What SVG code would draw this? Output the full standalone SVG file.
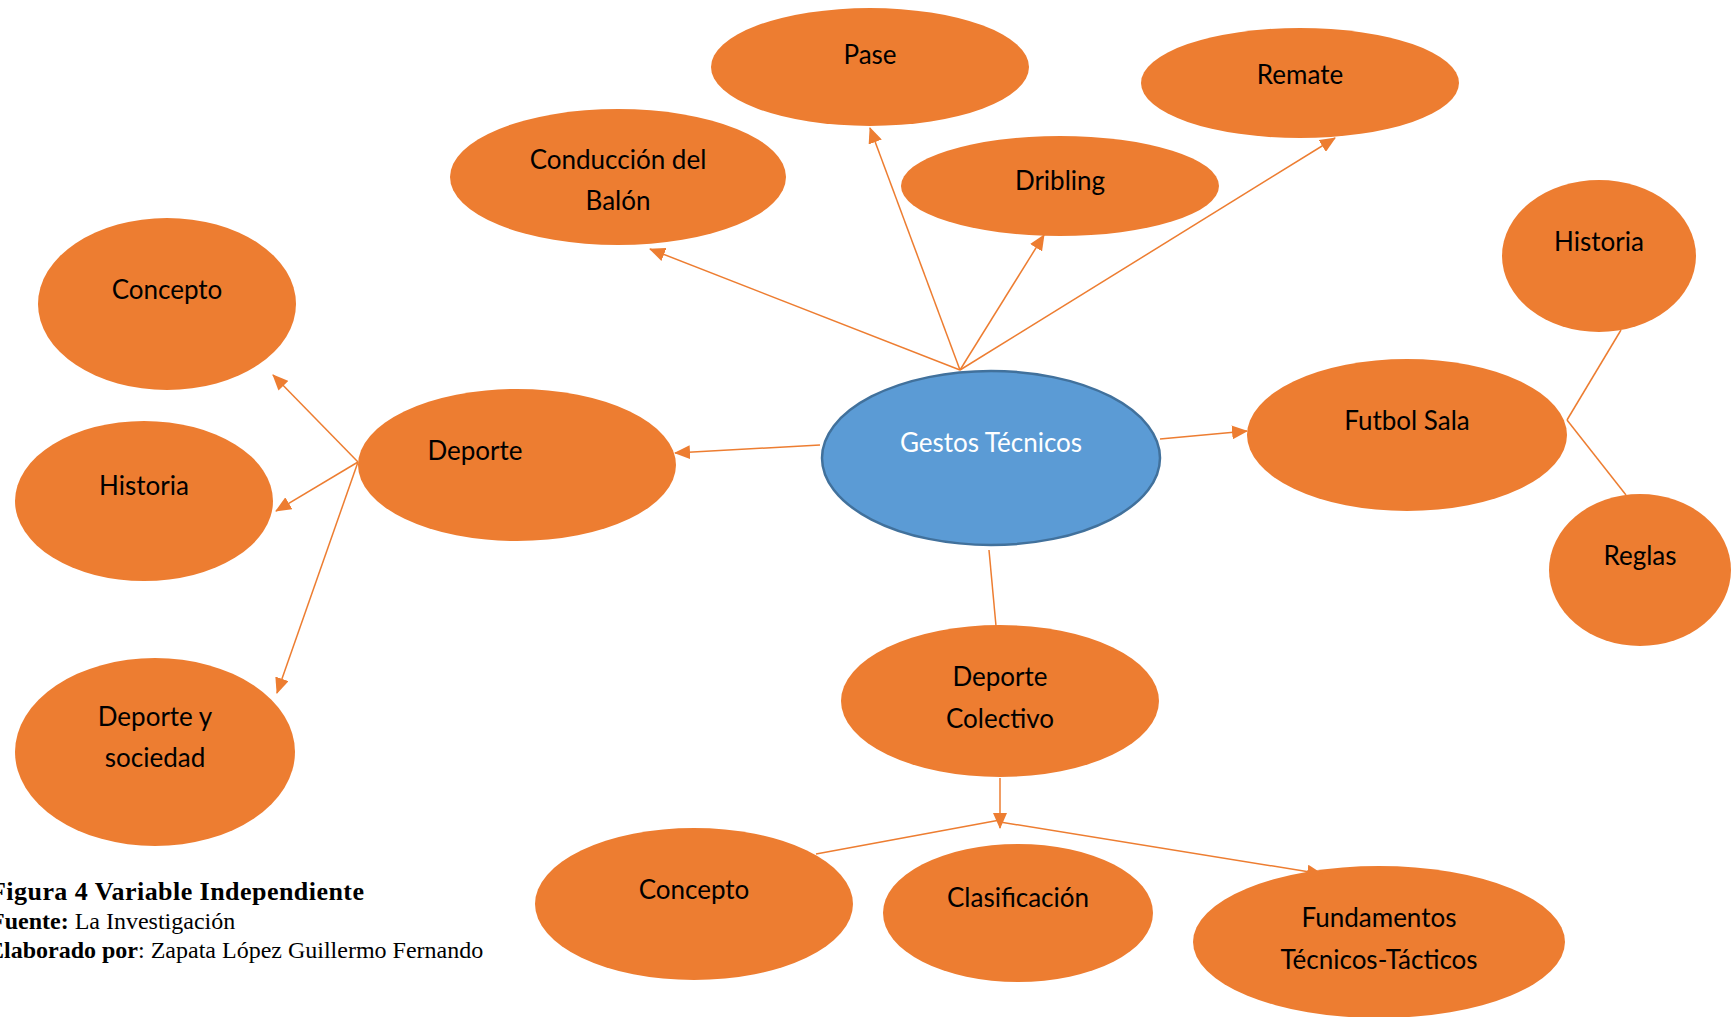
<svg xmlns="http://www.w3.org/2000/svg" width="1733" height="1017" viewBox="0 0 1733 1017">
<style>
.n{fill:#ED7D31}
.t{font-family:Lato,"Open Sans","Liberation Sans",sans-serif;font-size:26px;fill:#000;text-anchor:middle}
.c{stroke:#ED7D31;stroke-width:1.5;fill:none}
.cap{font-family:"Liberation Serif","Times New Roman",serif;font-size:24px;fill:#000}
</style>
<defs>
<marker id="ah" markerUnits="userSpaceOnUse" markerWidth="16" markerHeight="14" refX="15" refY="7" orient="auto">
<path d="M0,0 L16,7 L0,14 Z" fill="#ED7D31"/>
</marker>
</defs>
<rect width="1733" height="1017" fill="#fff"/>
<g id="n-pase"><ellipse class="n" cx="870" cy="67" rx="159" ry="59"/><text class="t" x="870" y="64">Pase</text></g>
<g id="n-remate"><ellipse class="n" cx="1300" cy="83" rx="159" ry="55"/><text class="t" x="1300" y="84">Remate</text></g>
<g id="n-conduccion"><ellipse class="n" cx="618" cy="177" rx="168" ry="68"/><text class="t" x="618" y="169">Conducción del</text><text class="t" x="618" y="210">Balón</text></g>
<g id="n-dribling"><ellipse class="n" cx="1060" cy="186" rx="159" ry="50"/><text class="t" x="1060" y="190">Dribling</text></g>
<g id="n-concepto1"><ellipse class="n" cx="167" cy="304" rx="129" ry="86"/><text class="t" x="167" y="299">Concepto</text></g>
<g id="n-historia1"><ellipse class="n" cx="144" cy="501" rx="129" ry="80"/><text class="t" x="144" y="495">Historia</text></g>
<g id="n-deporte"><ellipse class="n" cx="517" cy="465" rx="159" ry="76"/><text class="t" x="475" y="460">Deporte</text></g>
<g id="n-sociedad"><ellipse class="n" cx="155" cy="752" rx="140" ry="94"/><text class="t" x="155" y="726">Deporte y</text><text class="t" x="155" y="767">sociedad</text></g>
<g id="n-gestos"><ellipse cx="991" cy="458" rx="169" ry="87" fill="#5B9BD5" stroke="#41719C" stroke-width="2.5"/><text class="t" x="991" y="452" style="fill:#fff">Gestos Técnicos</text></g>
<g id="n-futbol"><ellipse class="n" cx="1407" cy="435" rx="160" ry="76"/><text class="t" x="1407" y="430">Futbol Sala</text></g>
<g id="n-historia2"><ellipse class="n" cx="1599" cy="256" rx="97" ry="76"/><text class="t" x="1599" y="251">Historia</text></g>
<g id="n-reglas"><ellipse class="n" cx="1640" cy="570" rx="91" ry="76"/><text class="t" x="1640" y="565">Reglas</text></g>
<g id="n-colectivo"><ellipse class="n" cx="1000" cy="701" rx="159" ry="76"/><text class="t" x="1000" y="686">Deporte</text><text class="t" x="1000" y="728">Colectivo</text></g>
<g id="n-concepto2"><ellipse class="n" cx="694" cy="904" rx="159" ry="76"/><text class="t" x="694" y="899">Concepto</text></g>
<g id="n-clasificacion"><ellipse class="n" cx="1018" cy="913" rx="135" ry="69"/><text class="t" x="1018" y="907">Clasificación</text></g>
<g id="n-fundamentos"><ellipse class="n" cx="1379" cy="942" rx="186" ry="76"/><text class="t" x="1379" y="927">Fundamentos</text><text class="t" x="1379" y="969">Técnicos-Tácticos</text></g>
<g id="connectors">
<line class="c" x1="960" y1="370" x2="650" y2="249" marker-end="url(#ah)"/>
<line class="c" x1="960" y1="370" x2="870" y2="128" marker-end="url(#ah)"/>
<line class="c" x1="960" y1="370" x2="1044" y2="235" marker-end="url(#ah)"/>
<line class="c" x1="960" y1="370" x2="1335" y2="138" marker-end="url(#ah)"/>
<line class="c" x1="820" y1="445" x2="675" y2="453" marker-end="url(#ah)"/>
<line class="c" x1="1160" y1="439" x2="1247" y2="431" marker-end="url(#ah)"/>
<line class="c" x1="989" y1="550" x2="996" y2="626"/>
<line class="c" x1="358" y1="462" x2="273" y2="375" marker-end="url(#ah)"/>
<line class="c" x1="358" y1="462" x2="276" y2="511" marker-end="url(#ah)"/>
<line class="c" x1="358" y1="462" x2="277" y2="693" marker-end="url(#ah)"/>
<line class="c" x1="1567" y1="420" x2="1621" y2="330"/>
<line class="c" x1="1567" y1="420" x2="1626" y2="495"/>
<line class="c" x1="1000" y1="778" x2="1000" y2="828" marker-end="url(#ah)"/>
<line class="c" x1="1000" y1="820" x2="816" y2="854"/>
<line class="c" x1="1000" y1="822" x2="1322" y2="874" marker-end="url(#ah)"/>
</g>
<g id="caption">
<text class="cap" x="-10" y="900" font-weight="bold" style="font-size:26px" textLength="374" lengthAdjust="spacing">Figura 4 Variable Independiente</text>
<text class="cap" x="-10" y="929"><tspan font-weight="bold">Fuente:</tspan> La Investigación</text>
<text class="cap" x="-12" y="958"><tspan font-weight="bold">Elaborado por</tspan>: Zapata López Guillermo Fernando</text>
</g>
</svg>
